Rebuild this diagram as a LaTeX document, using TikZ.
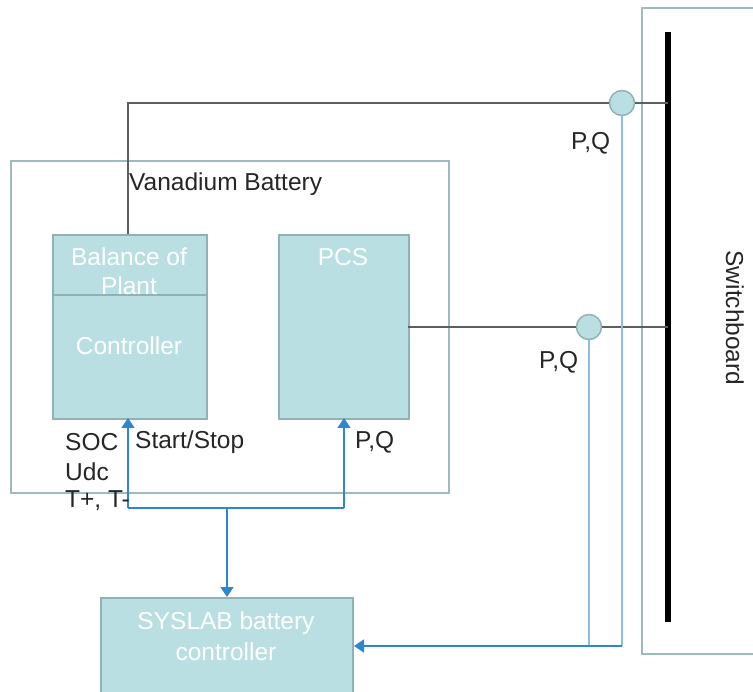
\documentclass[tikz,border=0pt]{standalone}
\usepackage{fontspec}
\setmainfont{Liberation Sans}
\usetikzlibrary{arrows.meta}
\definecolor{tealfill}{HTML}{B9DFE2}
\definecolor{tealedge}{HTML}{8FB2B5}
\definecolor{frame}{HTML}{9DBABD}
\definecolor{wire}{HTML}{5E5E5E}
\definecolor{sig}{HTML}{2F86D0}
\definecolor{sigl}{HTML}{8EBDE8}
\tikzset{
  x=1pt,y=-1pt,
  every node/.style={font=\fontsize{24.5}{28}\selectfont, inner sep=0pt},
  outer/.style={draw=frame, line width=2pt, fill=white},
  block/.style={draw=tealedge, line width=2pt, fill=tealfill},
  wtext/.style={text=white},
  btext/.style={text=black!85},
  wireline/.style={draw=wire, line width=2pt},
  sigline/.style={draw=sig, line width=1.8pt},
  sigline2/.style={draw=sigl, line width=2pt},
  sigarrow/.style={sigline, -{Triangle[width=13pt,length=10pt]}},
  meas/.style={circle, draw=tealedge, fill=tealfill, line width=1.5pt, minimum size=25pt},
}
\begin{document}
\begin{tikzpicture}
\useasboundingbox (0,0) rectangle (753,692);
\clip (0,0) rectangle (753,692);
% switchboard
\node[outer, anchor=north west, minimum width=140pt, minimum height=646pt] (sw) at (641,7) {};
\node[rotate=-90, btext] (swt) at (735,318) {Switchboard};
\coordinate (bustop) at (668,32);
\coordinate (busbot) at (668,622);
\draw[line width=6pt, black] (bustop) -- (busbot);
% vanadium battery
\node[outer, anchor=north west, minimum width=438pt, minimum height=332pt] (vb) at (10,160) {};
\node[btext, anchor=west] (vbt) at (129,184) {Vanadium Battery};
% BoP
\node[block, anchor=north west, minimum width=154pt, minimum height=184pt] (bop) at (52,234) {};
\draw[draw=tealedge, line width=2pt] (52,295) -- (206,295);
\node[wtext, align=center] (bopt) at (129,271) {Balance of\\[1pt]Plant};
\node[wtext] (ctl) at (129,346) {Controller};
% PCS
\node[block, anchor=north west, minimum width=130pt, minimum height=184pt] (pcs) at (278,234) {};
\node[wtext] (pcst) at (343,257) {PCS};
% SYSLAB
\node[block, anchor=north west, minimum width=252pt, minimum height=120pt] (sys) at (100,597) {};
\node[wtext, align=center] (syst) at (226,636) {SYSLAB battery\\[3pt]controller};
% measurement points
\node[meas] (m1) at (622,103) {};
\node[meas] (m2) at (589,327) {};
% power wires
\coordinate (bopin) at (128,234);
\coordinate (c1) at (128,103);
\coordinate (b1) at (668,103);
\coordinate (pcsout) at (408,327);
\coordinate (b2) at (668,327);
\draw[wireline] (bopin) -- (c1) -- (m1.west);
\draw[wireline] (m1.east) -- (b1);
\draw[wireline] (pcsout) -- (m2.west);
\draw[wireline] (m2.east) -- (b2);
% signals
\coordinate (j1) at (128,508);
\coordinate (j2) at (344,508);
\coordinate (j3) at (227,508);
\coordinate (k1) at (622,646);
\coordinate (k2) at (589,646);
\draw[sigarrow] (j1) -- (128,418);
\draw[sigarrow] (j2) -- (344,418);
\draw[sigline] (j1) -- (j2);
\draw[sigarrow] (j3) -- (sys.north -| j3);
\draw[sigline2] (m1.south) -- (k1);
\draw[sigline2] (m2.south) -- (k2);
\draw[sigarrow] (k1) -- (sys.east |- k1);
% labels
\node[btext, anchor=west] (l1) at (65,442) {SOC};
\node[btext, anchor=west] (l2) at (135,442) {Start/Stop};
\node[btext, anchor=west] (l3) at (65,472) {Udc};
\node[btext, anchor=west] (l4) at (65,501) {T+, T-};
\node[btext, anchor=west] (l5) at (355,442) {P,Q};
\node[btext, anchor=west] (l6) at (571,143) {P,Q};
\node[btext, anchor=west] (l7) at (539,362) {P,Q};
\end{tikzpicture}
\end{document}
